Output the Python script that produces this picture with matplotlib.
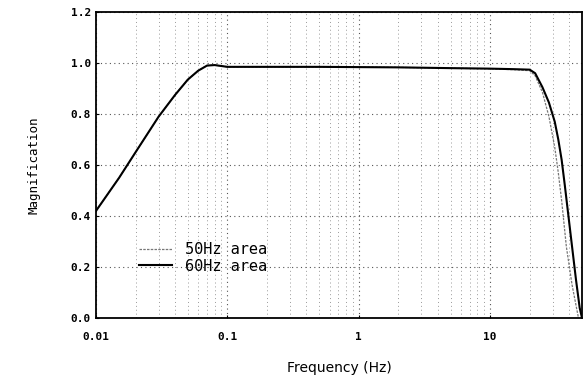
# Frequency response (magnification) chart
import numpy as np
import matplotlib.pyplot as plt
from matplotlib.ticker import FixedLocator, FixedFormatter, LogLocator, NullFormatter

# Data
freq_60 = [0.01, 0.015, 0.02, 0.03, 0.04, 0.05, 0.06, 0.07, 0.08, 0.1, 0.2, 0.5, 1, 2, 5, 10,
           15, 20, 22, 25, 28, 31, 33, 35, 37, 39, 42, 45, 48, 50]
mag_60 = [0.42, 0.55, 0.65, 0.79, 0.875, 0.935, 0.97, 0.99, 0.992, 0.985, 0.985, 0.985, 0.984,
          0.983, 0.98, 0.978, 0.976, 0.974, 0.96, 0.905, 0.845, 0.77, 0.70, 0.62, 0.52, 0.42,
          0.28, 0.15, 0.04, 0.0]

freq_50 = [0.01, 0.015, 0.02, 0.03, 0.04, 0.05, 0.06, 0.07, 0.08, 0.1, 0.2, 0.5, 1, 2, 5, 10,
           15, 20, 22, 25, 28, 31, 33, 35, 38, 42, 45, 47]
mag_50 = [0.42, 0.55, 0.65, 0.79, 0.875, 0.935, 0.97, 0.99, 0.992, 0.985, 0.985, 0.985, 0.984,
          0.983, 0.98, 0.977, 0.974, 0.97, 0.95, 0.885, 0.79, 0.67, 0.57, 0.46, 0.28, 0.13, 0.05, 0.0]

xticks = [0.01, 0.1, 1, 10]
xtick_labels = ["0.01", "0.1", "1", "10"]
yticks = [0.0, 0.2, 0.4, 0.6, 0.8, 1.0, 1.2]
ytick_labels = ["0.0", "0.2", "0.4", "0.6", "0.8", "1.0", "1.2"]

fig = plt.figure(figsize=(5.87, 3.82), dpi=100)
ax = fig.add_axes([0.1635, 0.1675, 0.828, 0.801])

ax.plot(freq_50, mag_50, color="#777777", lw=0.9, ls=(0, (2, 1)), label="50Hz area")
ax.plot(freq_60, mag_60, color="black", lw=1.5, label="60Hz area")

ax.set_xscale("log")
ax.set_xlim(0.01, 50)
ax.set_ylim(0, 1.2)

ax.xaxis.set_major_locator(FixedLocator(xticks))
ax.xaxis.set_major_formatter(FixedFormatter(xtick_labels))
ax.xaxis.set_minor_locator(LogLocator(base=10, subs=np.arange(2, 10)))
ax.xaxis.set_minor_formatter(NullFormatter())
ax.set_yticks(yticks)
ax.set_yticklabels(ytick_labels)

for lab in ax.get_xticklabels() + ax.get_yticklabels():
    lab.set_family("DejaVu Sans Mono")
    lab.set_fontweight("bold")
    lab.set_fontsize(8)

ax.tick_params(which="both", direction="in", length=2, width=0.8)
ax.tick_params(which="minor", length=0)
ax.tick_params(axis="x", pad=10)

ax.grid(which="major", ls=(0, (1, 3)), color="#555555", lw=0.8)
ax.grid(which="minor", axis="x", ls=(0, (1, 3)), color="#999999", lw=0.7)

for s in ax.spines.values():
    s.set_linewidth(1.3)

ax.set_xlabel("Frequency (Hz)", fontsize=10, labelpad=14)
ax.set_ylabel("Magnification", fontsize=9, family="DejaVu Sans Mono", labelpad=22)

leg = ax.legend(loc="lower left", bbox_to_anchor=(0.06, 0.1), frameon=False,
                prop={"family": "DejaVu Sans Mono", "size": 11},
                handlelength=2.2, labelspacing=0.1, handletextpad=0.8)

fig.savefig("out.png", dpi=100)
